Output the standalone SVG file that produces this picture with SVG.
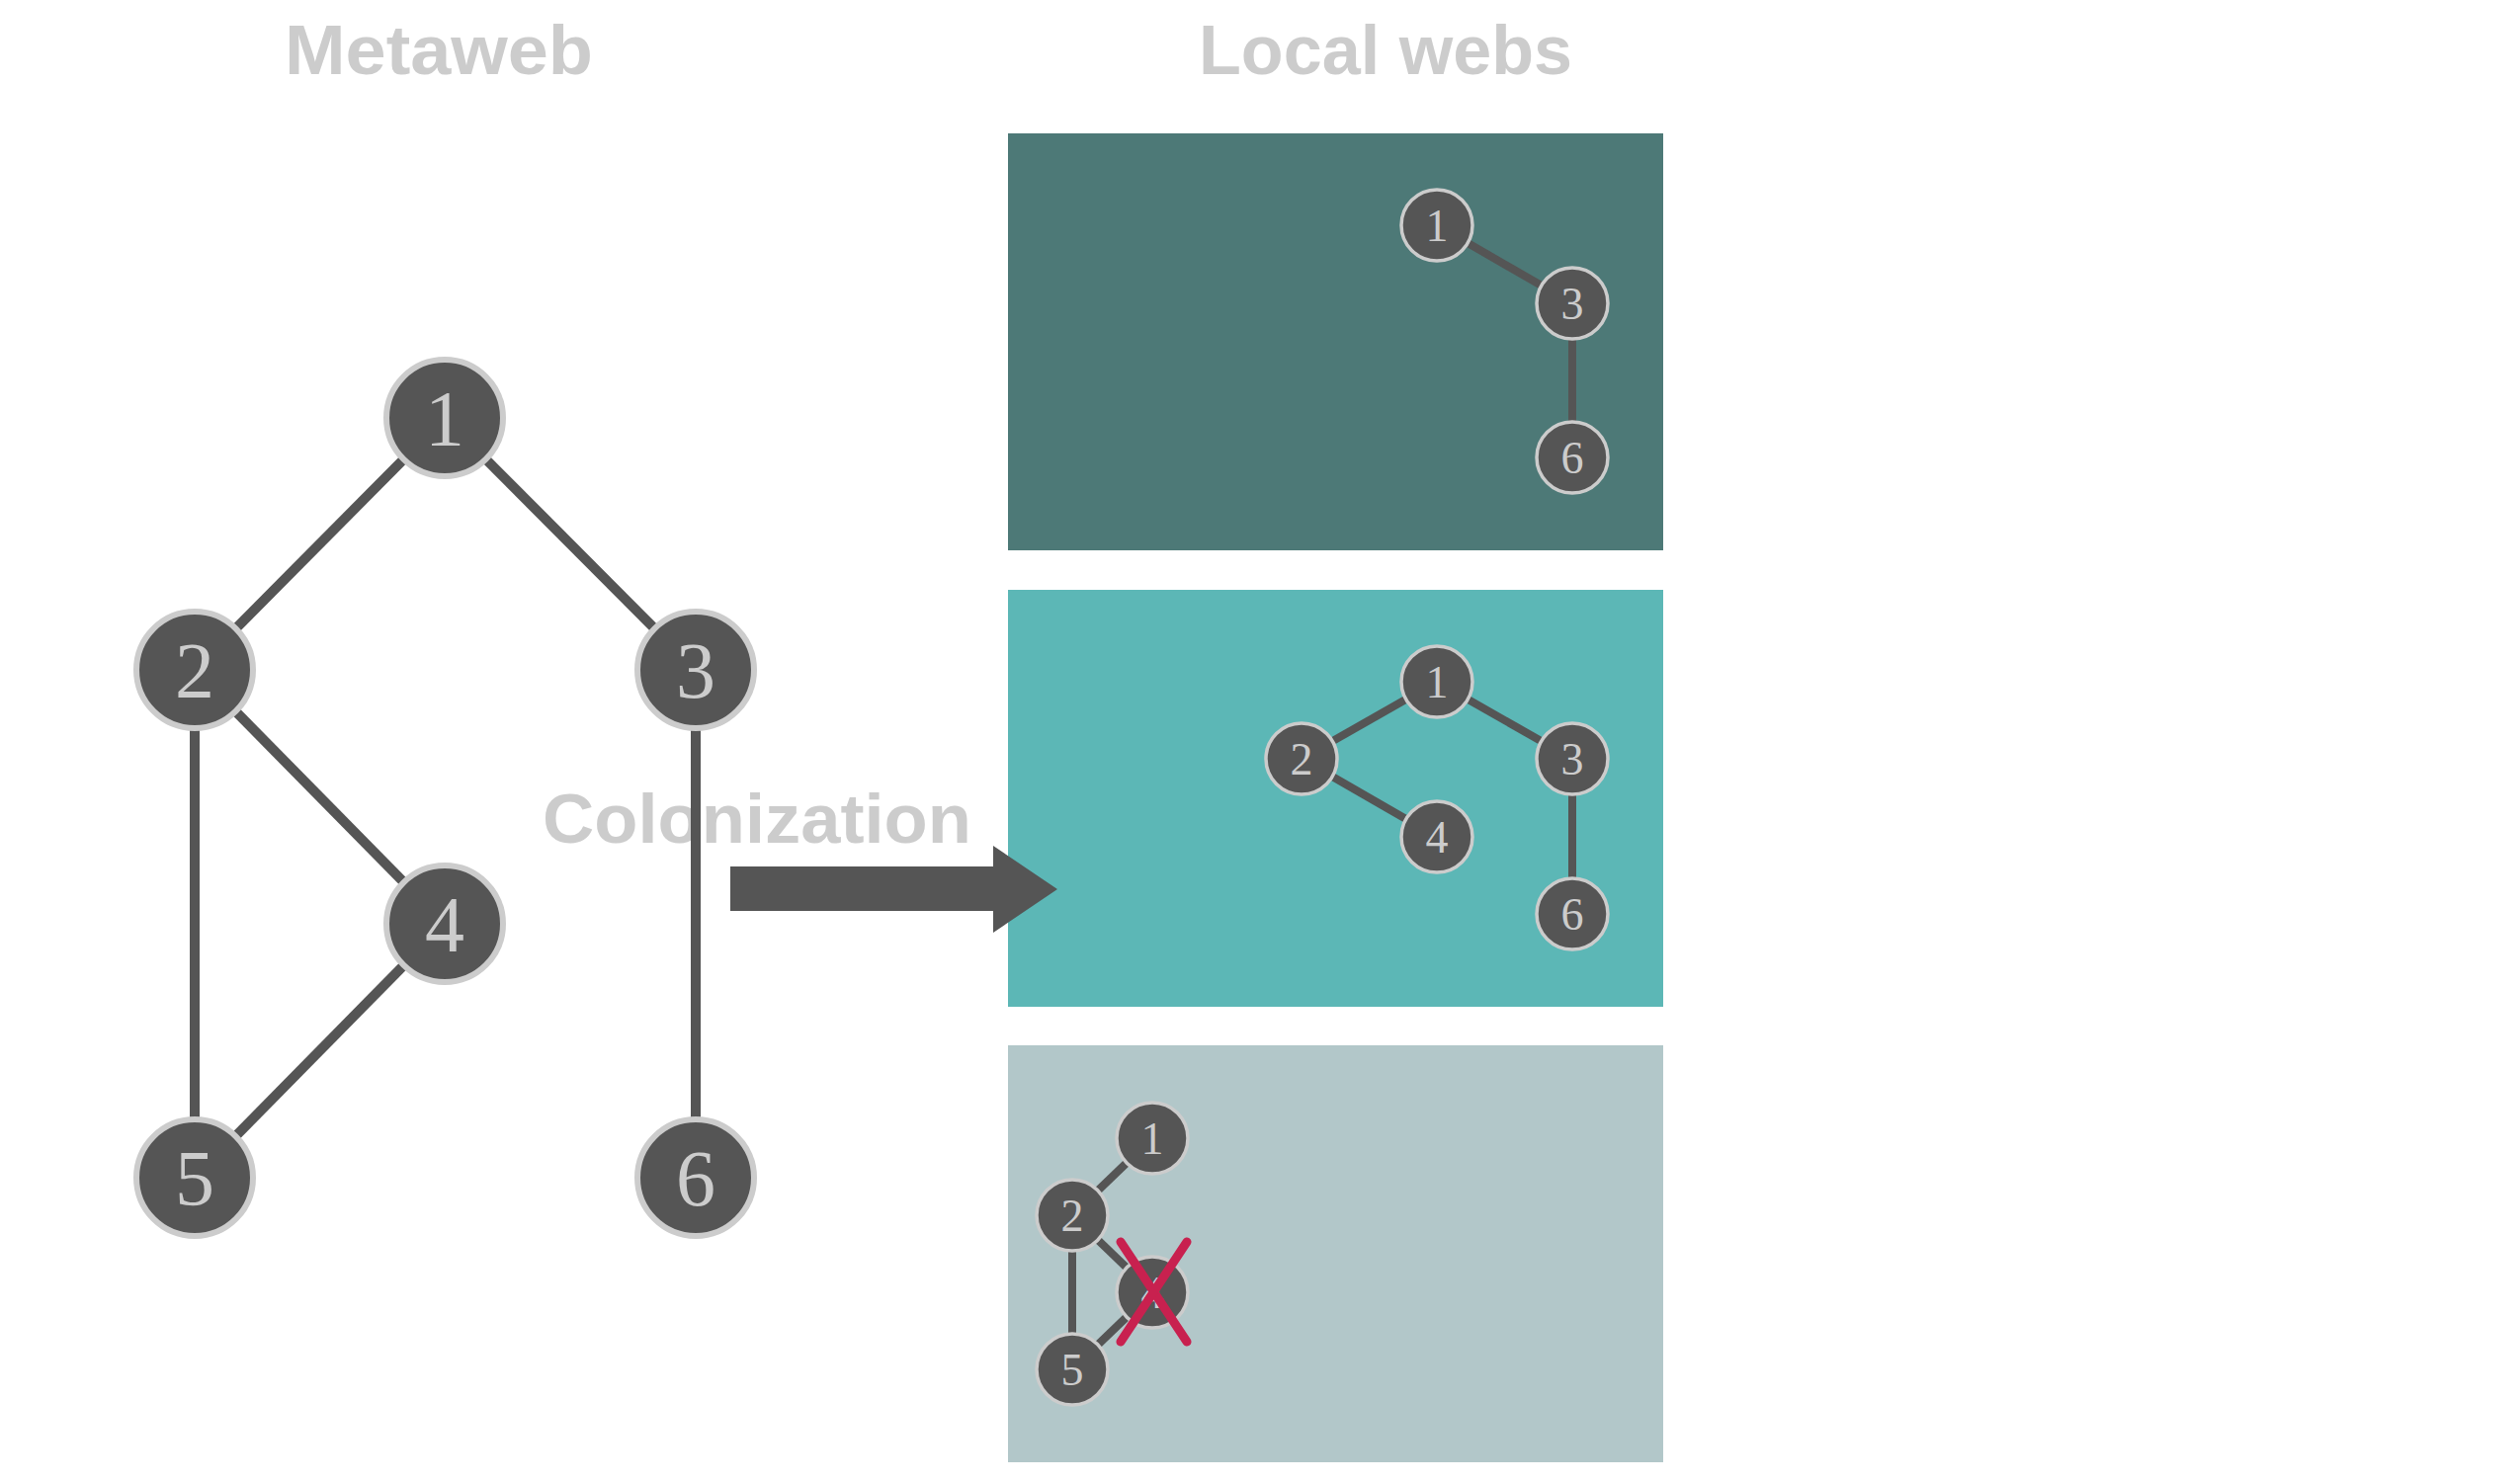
<svg xmlns="http://www.w3.org/2000/svg" width="2550" height="1500" viewBox="0 0 2550 1500">
<style>
.title{font-family:"Liberation Sans",Arial,sans-serif;font-weight:bold;font-size:71px;fill:#cccccc}
.big circle{fill:#555555;stroke:#cccccc;stroke-width:6}
.big text{font-family:"Liberation Serif","Times New Roman",serif;font-size:80px;fill:#cccccc;text-anchor:middle}
.small circle{fill:#555555;stroke:#cccccc;stroke-width:3.5}
.small text{font-family:"Liberation Serif","Times New Roman",serif;font-size:46px;fill:#cccccc;text-anchor:middle}
.e{stroke:#555555;stroke-width:10;fill:none}
.es{stroke:#555555;stroke-width:8;fill:none}
.x{stroke:#c8214f;stroke-width:9;stroke-linecap:round}
</style>
<rect width="2550" height="1500" fill="#ffffff"/>
<text class="title" x="288" y="75" textLength="312" lengthAdjust="spacingAndGlyphs">Metaweb</text>
<text class="title" x="1213" y="75" textLength="378" lengthAdjust="spacingAndGlyphs">Local webs</text>
<text class="title" x="549" y="853" textLength="434" lengthAdjust="spacingAndGlyphs">Colonization</text>

<!-- panels -->
<rect id="panel1" x="1020" y="135" width="663" height="422" fill="#4d7977"/>
<rect id="panel2" x="1020" y="597" width="663" height="422" fill="#5cb7b6"/>
<rect id="panel3" x="1020" y="1058" width="663" height="422" fill="#b2c7c9"/>

<g id="connectors">
  <line class="e" x1="450" y1="423" x2="197" y2="678"/>
  <line class="e" x1="450" y1="423" x2="704" y2="678"/>
  <line class="e" x1="197" y1="678" x2="450" y2="935"/>
  <line class="e" x1="197" y1="678" x2="197" y2="1192"/>
  <line class="e" x1="450" y1="935" x2="197" y2="1192"/>
  <line class="e" x1="704" y1="678" x2="704" y2="1192"/>
  <polygon id="colonization-arrow" points="739,877 1005,877 1005,856 1070,900 1005,944 1005,922 739,922" fill="#555555"/>
  <line class="es" x1="1454" y1="228" x2="1591" y2="307"/>
  <line class="es" x1="1591" y1="307" x2="1591" y2="463"/>
  <line class="es" x1="1454" y1="690" x2="1317" y2="768"/>
  <line class="es" x1="1454" y1="690" x2="1591" y2="768"/>
  <line class="es" x1="1317" y1="768" x2="1454" y2="847"/>
  <line class="es" x1="1591" y1="768" x2="1591" y2="925"/>
  <line class="es" x1="1166" y1="1152" x2="1085" y2="1230"/>
  <line class="es" x1="1085" y1="1230" x2="1166" y2="1308"/>
  <line class="es" x1="1085" y1="1230" x2="1085" y2="1386"/>
  <line class="es" x1="1166" y1="1308" x2="1085" y2="1386"/>
</g>

<g class="big">
  <g id="m1"><circle cx="450" cy="423" r="59"/><text x="450" y="451">1</text></g>
  <g id="m2"><circle cx="197" cy="678" r="59"/><text x="197" y="706">2</text></g>
  <g id="m3"><circle cx="704" cy="678" r="59"/><text x="704" y="706">3</text></g>
  <g id="m4"><circle cx="450" cy="935" r="59"/><text x="450" y="963">4</text></g>
  <g id="m5"><circle cx="197" cy="1192" r="59"/><text x="197" y="1220">5</text></g>
  <g id="m6"><circle cx="704" cy="1192" r="59"/><text x="704" y="1220">6</text></g>
</g>

<g class="small">
  <g id="a1"><circle cx="1454" cy="228" r="36"/><text x="1454" y="244">1</text></g>
  <g id="a3"><circle cx="1591" cy="307" r="36"/><text x="1591" y="323">3</text></g>
  <g id="a6"><circle cx="1591" cy="463" r="36"/><text x="1591" y="479">6</text></g>

  <g id="b1"><circle cx="1454" cy="690" r="36"/><text x="1454" y="706">1</text></g>
  <g id="b2"><circle cx="1317" cy="768" r="36"/><text x="1317" y="784">2</text></g>
  <g id="b3"><circle cx="1591" cy="768" r="36"/><text x="1591" y="784">3</text></g>
  <g id="b4"><circle cx="1454" cy="847" r="36"/><text x="1454" y="863">4</text></g>
  <g id="b6"><circle cx="1591" cy="925" r="36"/><text x="1591" y="941">6</text></g>

  <g id="c1"><circle cx="1166" cy="1152" r="36"/><text x="1166" y="1168">1</text></g>
  <g id="c2"><circle cx="1085" cy="1230" r="36"/><text x="1085" y="1246">2</text></g>
  <g id="c4"><circle cx="1166" cy="1308" r="36"/><text x="1166" y="1324">4</text></g>
  <g id="c5"><circle cx="1085" cy="1386" r="36"/><text x="1085" y="1402">5</text></g>
</g>

<g id="extinction-mark">
  <line class="x" x1="1134" y1="1257" x2="1201" y2="1358"/>
  <line class="x" x1="1201" y1="1257" x2="1134" y2="1358"/>
</g>
</svg>
